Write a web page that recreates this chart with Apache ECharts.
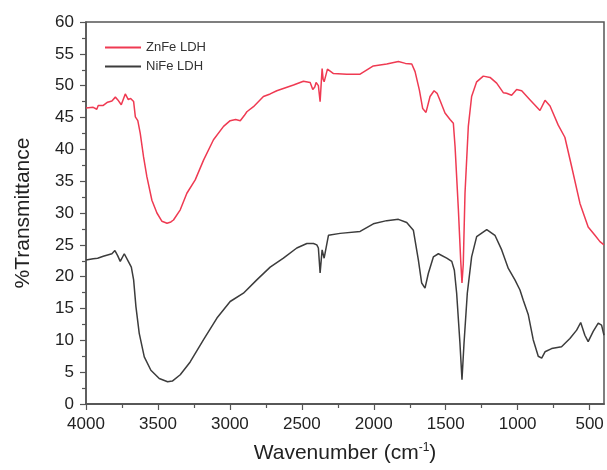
<!DOCTYPE html>
<html style="height: 100%">
  <head>
    <meta charset="UTF-8" />
    <title>FTIR</title>
    <script src="https://cdn.jsdelivr.net/npm/echarts@6.0.0/dist/echarts.min.js"></script>
  </head>
  <body style="height: 100%; margin: 0; background: #fff">
    <div id="main" style="width: 607px; height: 470px"></div>
    <script type="text/javascript">
      // ZnFe LDH spectrum (wavenumber, %T)
      var znfeWave = [4000, 3950, 3925, 3915, 3880, 3850, 3820, 3796, 3780, 3755, 3727, 3706, 3690, 3669, 3657, 3640, 3623, 3600, 3577, 3542, 3507, 3472, 3437, 3410, 3392, 3345, 3299, 3241, 3183, 3114, 3044, 2998, 2960, 2928, 2900, 2882, 2836, 2767, 2720, 2674, 2558, 2489, 2442, 2424, 2410, 2401, 2385, 2373, 2359, 2352, 2345, 2322, 2280, 2188, 2095, 2003, 1910, 1829, 1780, 1736, 1713, 1683, 1660, 1637, 1609, 1581, 1560, 1540, 1505, 1470, 1447, 1435, 1412, 1396, 1387, 1378, 1366, 1343, 1320, 1285, 1239, 1192, 1146, 1100, 1077, 1042, 1007, 972, 915, 845, 810, 775, 718, 672, 625, 567, 510, 463, 428, 400];
      var znfeT = [46.5, 46.6, 46.3, 46.9, 46.9, 47.4, 47.6, 48.2, 47.8, 47.0, 48.7, 47.8, 48.0, 47.5, 45.1, 44.5, 42.5, 38.8, 35.7, 32.0, 30.0, 28.7, 28.4, 28.6, 28.9, 30.5, 33.1, 35.2, 38.3, 41.5, 43.6, 44.5, 44.7, 44.5, 45.3, 45.9, 46.7, 48.3, 48.7, 49.2, 50.1, 50.7, 50.5, 49.4, 49.8, 50.5, 50.0, 47.5, 52.7, 51.0, 50.6, 52.6, 51.9, 51.8, 51.8, 53.1, 53.4, 53.8, 53.5, 53.4, 52.2, 49.3, 46.4, 45.8, 48.3, 49.2, 48.8, 47.7, 45.7, 44.7, 44.1, 40.4, 30.5, 22.6, 19.0, 22.0, 33.1, 43.6, 48.3, 50.6, 51.5, 51.3, 50.4, 48.9, 48.8, 48.5, 49.4, 49.2, 47.8, 46.1, 47.7, 46.8, 43.8, 41.9, 37.3, 31.5, 27.8, 26.5, 25.5, 25.0];

      // NiFe LDH spectrum
      var nifeWave = [4000, 3950, 3919, 3880, 3850, 3820, 3799, 3780, 3762, 3734, 3706, 3685, 3669, 3653, 3630, 3595, 3549, 3491, 3433, 3400, 3345, 3276, 3183, 3090, 2998, 2906, 2813, 2720, 2628, 2535, 2465, 2419, 2396, 2385, 2373, 2359, 2345, 2315, 2234, 2095, 2003, 1910, 1829, 1771, 1725, 1690, 1667, 1644, 1621, 1586, 1551, 1493, 1458, 1440, 1424, 1401, 1387, 1373, 1350, 1320, 1285, 1215, 1158, 1111, 1065, 1019, 984, 961, 926, 892, 857, 833, 810, 764, 695, 637, 590, 562, 533, 510, 475, 440, 417, 400];
      var nifeT = [22.6, 22.8, 22.9, 23.2, 23.4, 23.6, 24.1, 23.3, 22.4, 23.6, 22.4, 21.5, 19.5, 15.3, 11.1, 7.4, 5.3, 4.0, 3.5, 3.6, 4.6, 6.6, 10.1, 13.5, 16.1, 17.4, 19.5, 21.5, 22.9, 24.5, 25.2, 25.2, 25.0, 24.5, 20.6, 24.2, 22.9, 26.5, 26.8, 27.1, 28.3, 28.8, 29.0, 28.5, 27.3, 22.6, 19.0, 18.2, 20.5, 23.1, 23.6, 22.9, 22.4, 21.0, 17.4, 9.5, 3.8, 9.5, 17.4, 23.1, 26.3, 27.4, 26.5, 24.2, 21.3, 19.5, 17.9, 16.3, 14.0, 10.1, 7.5, 7.2, 8.2, 8.7, 9.0, 10.3, 11.6, 12.8, 10.8, 9.8, 11.4, 12.7, 12.4, 10.8];

      var xMajor = [4000, 3500, 3000, 2500, 2000, 1500, 1000, 500];
      var xMinor = [3750, 3250, 2750, 2250, 1750, 1250, 750];

      function pairs(xs, ys) {
        return xs.map(function (x, i) {
          return [x, ys[i]];
        });
      }

      var font = "Liberation Sans, Arial, sans-serif";
      var axisCol = "#555";
      var chart = echarts.init(document.getElementById("main"));
      var option = {
        animation: false,
        grid: {
          left: 86,
          right: 3,
          top: 22,
          bottom: 66,
          show: true,
          borderColor: axisCol,
          borderWidth: 1.5,
        },
        legend: {
          orient: "vertical",
          left: 100,
          top: 36,
          itemWidth: 36,
          itemHeight: 2,
          itemGap: 6,
          icon: "rect",
          textStyle: { fontFamily: font, fontSize: 13, color: "#333" },
          data: ["ZnFe LDH", "NiFe LDH"],
        },
        xAxis: [
          {
            type: "value",
            inverse: true,
            min: 400,
            max: 4000,
            splitLine: { show: false },
            axisLine: { lineStyle: { color: axisCol, width: 1.5 } },
            axisTick: {
              length: 6,
              customValues: xMajor,
              lineStyle: { color: axisCol, width: 1.2 },
            },
            axisLabel: {
              customValues: xMajor,
              formatter: function (v) {
                return String(v);
              },
              margin: 12,
              fontFamily: font,
              fontSize: 17,
              color: "#222",
            },
            name: "{a|Wavenumber (cm}{b|-1}{a|)}",
            nameLocation: "middle",
            nameGap: 38,
            nameTextStyle: {
              rich: {
                a: { fontFamily: font, fontSize: 21, color: "#222" },
                b: {
                  fontFamily: font,
                  fontSize: 12,
                  color: "#222",
                  verticalAlign: "top",
                  padding: [0, 0, 10, 0],
                },
              },
            },
          },
          {
            type: "value",
            inverse: true,
            min: 400,
            max: 4000,
            gridIndex: 0,
            position: "bottom",
            splitLine: { show: false },
            axisLine: { show: true, lineStyle: { color: axisCol, width: 1.5 } },
            axisTick: {
              show: true,
              length: 4,
              customValues: xMinor,
              lineStyle: { color: axisCol, width: 1.2 },
            },
            axisLabel: { show: false, customValues: xMinor },
          },
        ],
        yAxis: {
          type: "value",
          min: 0,
          max: 60,
          interval: 5,
          splitLine: { show: false },
          axisLine: { show: true, lineStyle: { color: axisCol, width: 1.5 } },
          axisTick: { length: 6, lineStyle: { color: axisCol, width: 1.2 } },
          minorTick: {
            show: true,
            splitNumber: 2,
            length: 4,
            lineStyle: { color: axisCol, width: 1.2 },
          },
          axisLabel: {
            margin: 12,
            fontFamily: font,
            fontSize: 17,
            color: "#222",
          },
          name: "%Transmittance",
          nameLocation: "middle",
          nameGap: 52,
          nameTextStyle: { fontFamily: font, fontSize: 21, color: "#222" },
        },
        series: [
          {
            name: "ZnFe LDH",
            type: "line",
            showSymbol: false,
            data: pairs(znfeWave, znfeT),
            lineStyle: { color: "#ef3a52", width: 1.5 },
            itemStyle: { color: "#ef3a52" },
          },
          {
            name: "NiFe LDH",
            type: "line",
            showSymbol: false,
            data: pairs(nifeWave, nifeT),
            lineStyle: { color: "#3c3c3c", width: 1.5 },
            itemStyle: { color: "#3c3c3c" },
          },
        ],
      };
      chart.setOption(option);
    </script>
  </body>
</html>
